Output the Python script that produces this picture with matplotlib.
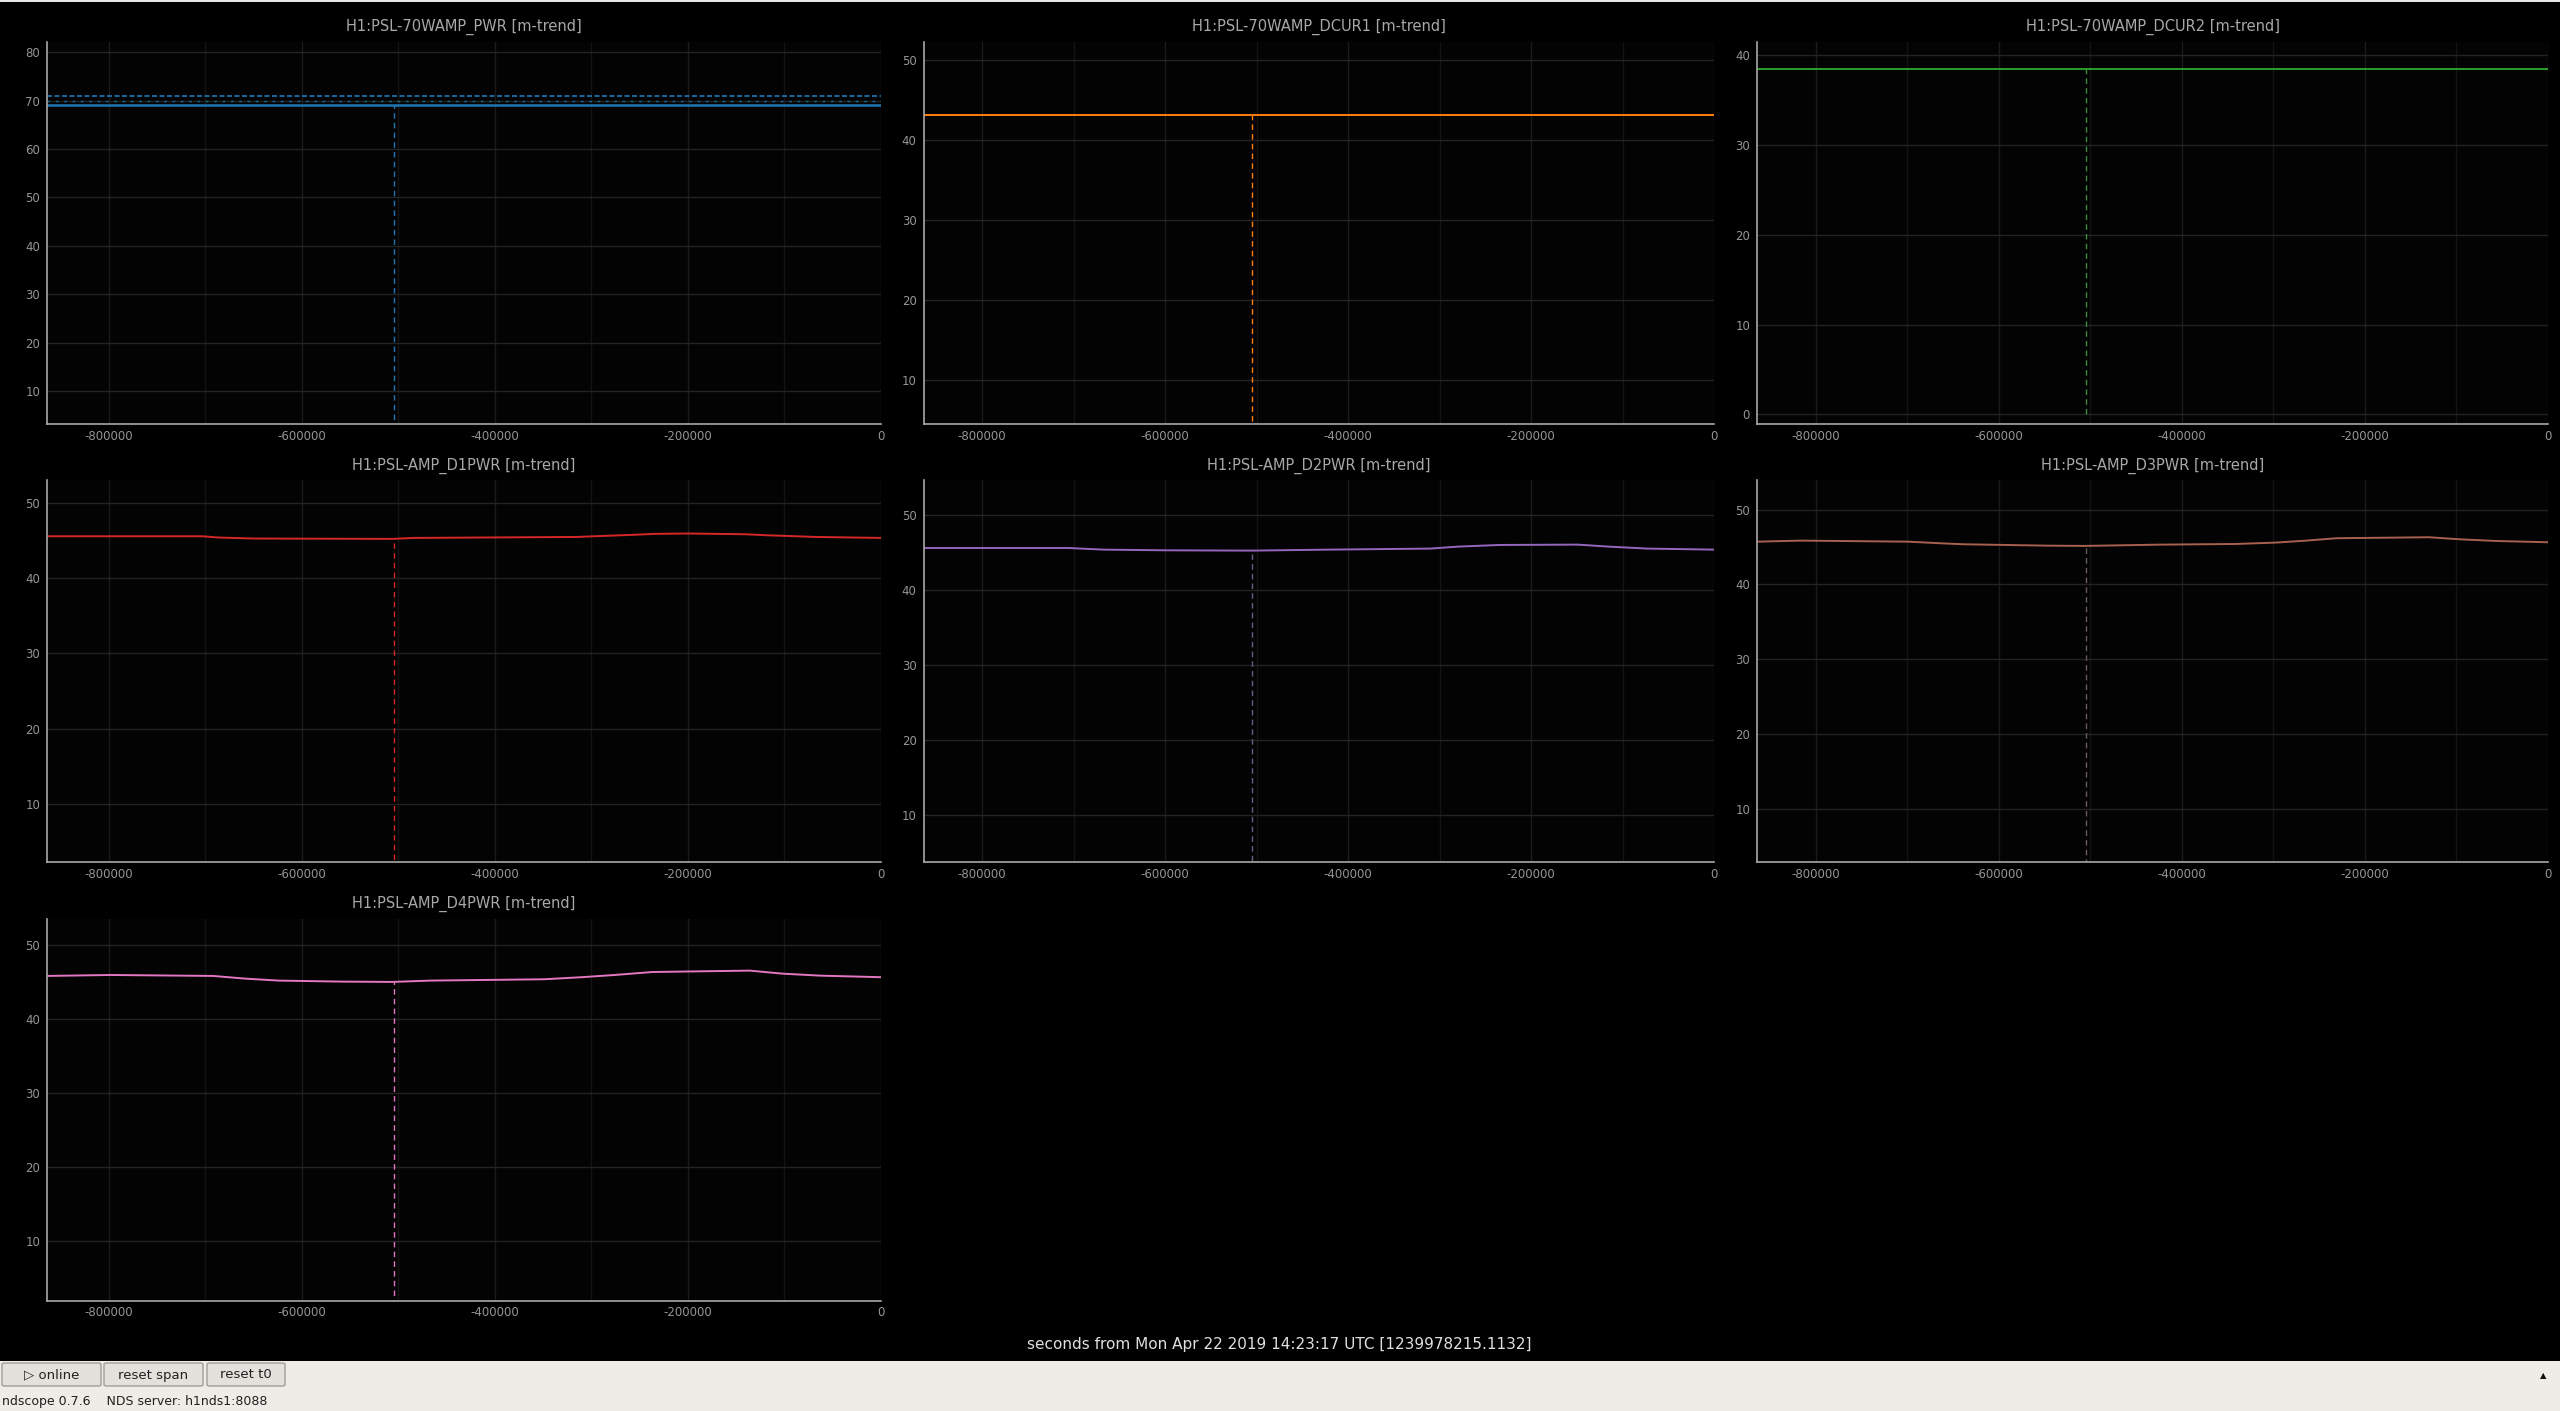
import matplotlib
matplotlib.use('Agg')
import matplotlib.pyplot as plt
from matplotlib.patches import Rectangle, FancyBboxPatch
from matplotlib.ticker import MultipleLocator

W, H = 2560, 1411

# channel names / colours
titles = ['H1:PSL-70WAMP_PWR [m-trend]', 'H1:PSL-70WAMP_DCUR1 [m-trend]',
          'H1:PSL-70WAMP_DCUR2 [m-trend]', 'H1:PSL-AMP_D1PWR [m-trend]',
          'H1:PSL-AMP_D2PWR [m-trend]', 'H1:PSL-AMP_D3PWR [m-trend]',
          'H1:PSL-AMP_D4PWR [m-trend]']
colors = ['#1f77b4', '#ff7f0e', '#2ca02c', '#d62728', '#9467bd', '#a8604f', '#e377c2']
cursor_colors = ['#1f77b4', '#ff7f0e', '#3c8a3c', '#d62728', '#6d5a88', '#6a5a55', '#e377c2']

# data (seconds from t0)
t_pwr = [-864000, 0]
pwr_max = [71.0, 71.0]
pwr_mean = [70.0, 70.0]
pwr_min = [69.0, 69.0]

t_dcur1 = [-864000, 0]
dcur1 = [43.05, 43.05]

t_dcur2 = [-864000, 0]
dcur2 = [38.45, 38.45]

t_d1 = [-864000, -703000, -686000, -650000, -506000, -484000, -315000, -287000,
        -259000, -234000, -200000, -141000, -119000, -68000, 0]
d1 = [45.6, 45.6, 45.43, 45.3, 45.25, 45.38, 45.51, 45.65,
      45.78, 45.92, 45.97, 45.87, 45.74, 45.51, 45.38]

t_d2 = [-864000, -706000, -667000, -600000, -505000, -422000, -310000, -280000,
        -235000, -149000, -115000, -73000, 0]
d2 = [45.57, 45.57, 45.35, 45.26, 45.22, 45.35, 45.49, 45.75,
      45.97, 46.02, 45.75, 45.49, 45.35]

t_d3 = [-864000, -816000, -699000, -663000, -638000, -549000, -506000, -426000,
        -342000, -298000, -264000, -231000, -130000, -97000, -56000, 0]
d3 = [45.71, 45.85, 45.71, 45.49, 45.36, 45.18, 45.14, 45.31,
      45.4, 45.58, 45.85, 46.17, 46.3, 46.03, 45.8, 45.63]

t_d4 = [-864000, -798000, -692000, -658000, -624000, -557000, -506000, -467000,
        -349000, -310000, -276000, -237000, -136000, -102000, -63000, 0]
d4 = [45.87, 46.0, 45.87, 45.5, 45.24, 45.1, 45.06, 45.24,
      45.42, 45.7, 46.0, 46.4, 46.59, 46.18, 45.91, 45.7]

cursor_t = -505000
cursor_vals = [69.0, 43.05, 38.45, 45.25, 45.22, 45.14, 45.06]

ylims = [(3.2, 82.1), (4.55, 52.2), (-1.08, 41.48), (2.17, 53.04),
         (3.7, 54.57), (2.83, 53.9), (1.92, 53.6)]

# axes boxes in screen pixels: x0, top, x1, bottom
cols = [(47, 881), (923.6, 1714), (1757, 2548)]
rows = [(42, 424), (480.4, 862.4), (918.8, 1300.8)]


def box(x0, top, x1, bottom):
    return [x0 / W, 1 - bottom / H, (x1 - x0) / W, (bottom - top) / H]


plt.rcParams['axes.unicode_minus'] = False
plt.rcParams['font.family'] = 'DejaVu Sans'

fig = plt.figure(figsize=(W / 100, H / 100), dpi=100, facecolor='black')

series = [(t_dcur1, dcur1), (t_dcur2, dcur2), (t_d1, d1), (t_d2, d2), (t_d3, d3), (t_d4, d4)]

for i in range(7):
    r, c = divmod(i, 3)
    ax = fig.add_axes(box(cols[c][0], rows[r][0], cols[c][1], rows[r][1]))
    ax.set_facecolor('#030303')
    for s in ['top', 'right']:
        ax.spines[s].set_visible(False)
    for s in ['left', 'bottom']:
        ax.spines[s].set_color('#a8a8a8')
        ax.spines[s].set_linewidth(1.2)
    ax.set_xlim(-864000, 0)
    ax.set_ylim(*ylims[i])
    ax.xaxis.set_major_locator(MultipleLocator(200000))
    ax.xaxis.set_minor_locator(MultipleLocator(100000))
    ax.yaxis.set_major_locator(MultipleLocator(10))
    ax.grid(which='major', axis='y', color='#232323', lw=1)
    ax.grid(which='major', axis='x', color='#1b1b1b', lw=1)
    ax.grid(which='minor', axis='x', color='#131313', lw=1)
    ax.set_axisbelow(True)
    ax.tick_params(which='both', length=0, colors='#959595', labelsize=8.5)
    ax.tick_params(axis='x', pad=4)
    ax.tick_params(axis='y', pad=5)

    col = colors[i]
    if i == 0:
        ax.plot(t_pwr, pwr_max, color=col, lw=1.2, ls=(0, (3, 1.5)))
        ax.plot(t_pwr, pwr_mean, color=col, lw=1.0, ls=(0, (2, 4)), alpha=0.8)
        ax.plot(t_pwr, pwr_min, color=col, lw=1.8)
    else:
        tt, vv = series[i - 1]
        ax.plot(tt, vv, color=col, lw=1.4)
    ax.plot([cursor_t, cursor_t], [0, cursor_vals[i]], color=cursor_colors[i], lw=1,
            ls=(0, (4, 3)))

    xc = (cols[c][0] + cols[c][1]) / 2
    fig.text(xc / W, 1 - (rows[r][0] - 15) / H, titles[i], ha='center', va='center',
             color='#a8a8a8', fontsize=10.5)

# time axis label
fig.text(1279 / W, 1 - 1345 / H,
         'seconds from Mon Apr 22 2019 14:23:17 UTC [1239978215.1132]',
         ha='center', va='center', color='#e0e0e0', fontsize=11)

# window bits: top strip and bottom toolbar
fig.add_artist(Rectangle((0, 1 - 2 / H), 1, 2 / H, transform=fig.transFigure,
                         color='#e8e6e3', lw=0))
fig.add_artist(Rectangle((0, 0), 1, 50 / H, transform=fig.transFigure,
                         color='#efebe7', lw=0))
buttons = [('\u25b7 online', 2, 101), ('reset span', 104, 203), ('reset t0', 207, 285)]
for label, x0, x1 in buttons:
    fig.add_artist(FancyBboxPatch((x0 / W, 1 - 1386 / H), (x1 - x0) / W, 23 / H,
                                  boxstyle='round,pad=0,rounding_size=0.001',
                                  transform=fig.transFigure, facecolor='#e4e1dd',
                                  edgecolor='#a09d99', lw=1))
    fig.text((x0 + x1) / 2 / W, 1 - 1375 / H, label, ha='center', va='center',
             color='#202020', fontsize=9.5)
fig.text(2 / W, 1 - 1402 / H, 'ndscope 0.7.6    NDS server: h1nds1:8088',
         ha='left', va='center', color='#202020', fontsize=9)
fig.text(2543 / W, 1 - 1376 / H, '\u25b2', ha='center', va='center',
         color='#101010', fontsize=6)

fig.savefig('out.png', dpi=100, facecolor='black')
